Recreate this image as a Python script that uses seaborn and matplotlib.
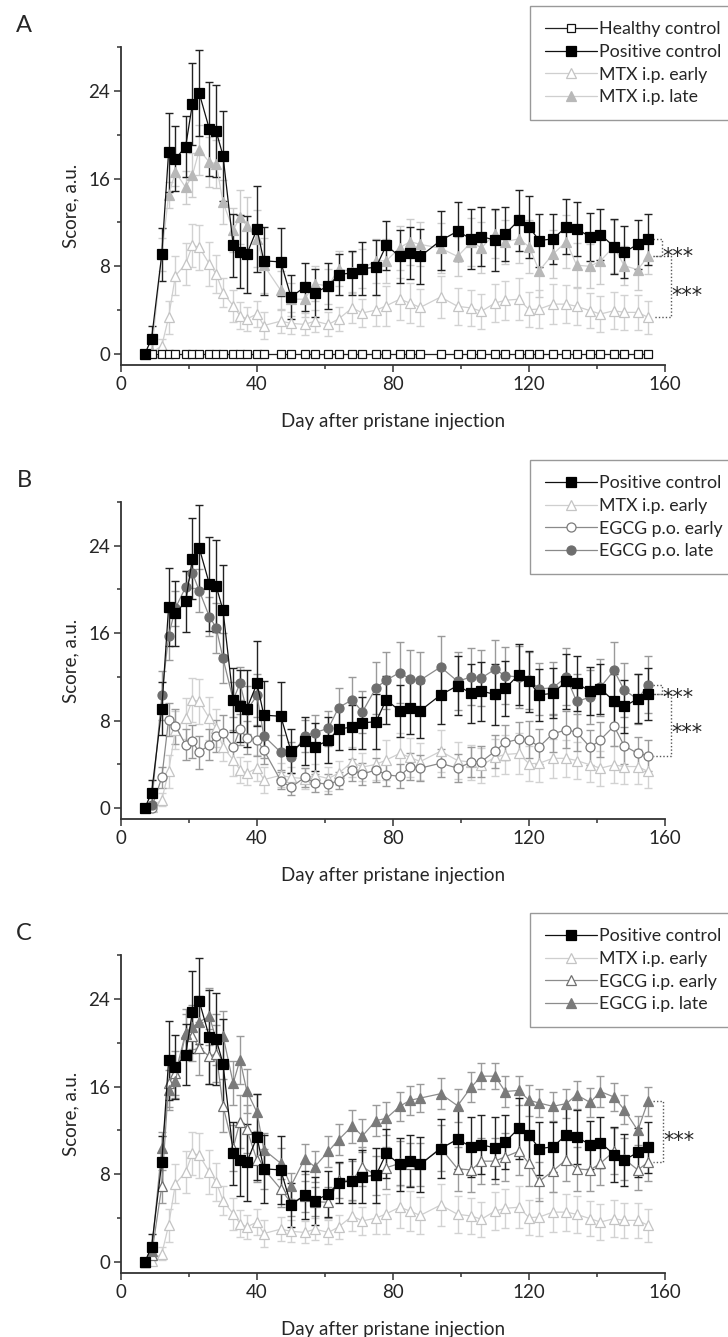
# score curves for the pristane model, three panels (A, B, C)

import numpy as np
import pandas as pd
import matplotlib
matplotlib.use("Agg")
import matplotlib.pyplot as plt
from matplotlib.ticker import MultipleLocator
import seaborn as sns

days = [7, 9, 12, 14, 16, 19, 21, 23, 26, 28, 30, 33, 35, 37, 40, 42, 47, 50, 54, 57,
        61, 64, 68, 71, 75, 78, 82, 85, 88, 94, 99, 103, 106, 110, 113, 117, 120, 123,
        127, 131, 134, 138, 141, 145, 148, 152, 155]

healthy = [0] * len(days)

pos_ctrl = [0, 1.4, 9.1, 18.4, 17.8, 18.9, 22.8, 23.8, 20.5, 20.3, 18.1, 9.9, 9.35, 9.1, 11.4,
            8.5, 8.4, 5.2, 6.1, 5.6, 6.2, 7.25, 7.4, 7.8, 7.9, 9.9, 8.9, 9.2, 8.9, 10.35,
            11.2, 10.5, 10.7, 10.4, 10.95, 12.2, 11.6, 10.35, 10.5, 11.6, 11.4, 10.7, 10.9,
            9.8, 9.3, 10.0, 10.45]
pos_ctrl_sd = [0, 1.2, 2.4, 3.6, 2.95, 2.8, 3.7, 3.95, 4.3, 4.2, 4.1, 2.9, 3.3, 3.5, 3.9,
               3.1, 3.1, 2.0, 2.2, 2.2, 2.1, 1.9, 2.0, 2.4, 2.5, 2.2, 2.4, 2.4, 2.5, 2.7,
               2.7, 2.7, 2.7, 2.8, 2.5, 2.8, 2.8, 2.4, 2.3, 2.5, 2.5, 2.2, 2.3, 2.5, 2.4,
               2.25, 2.35]

mtx_early = [0, 0.1, 0.76, 3.35, 7.15, 8.2, 9.9, 9.75, 8.2, 7.3, 5.6, 4.4, 3.5, 3.2, 3.65,
             2.6, 3.0, 2.8, 2.7, 3.0, 2.7, 3.2, 4.2, 3.75, 4.0, 4.4, 5.0, 4.65, 4.25, 5.2,
             4.35, 4.2, 3.9, 4.65, 4.9, 5.0, 4.05, 4.1, 4.55, 4.55, 4.35, 3.95, 3.65, 3.95,
             3.8, 3.8, 3.35]
mtx_early_sd = [0, 0.2, 0.6, 1.5, 1.75, 1.9, 2.0, 2.05, 2.0, 1.75, 1.3, 1.45, 1.2, 1.1, 1.2,
                1.2, 1.1, 1.0, 1.0, 1.0, 1.1, 1.1, 1.4, 1.3, 1.4, 1.8, 1.9, 1.8, 1.7, 1.9,
                1.7, 1.6, 1.6, 1.7, 1.8, 1.9, 1.6, 1.7, 1.8, 1.7, 1.7, 1.6, 1.6, 1.7, 1.6,
                1.6, 1.5]

mtx_late = [0, 0.2, 9.1, 14.5, 16.6, 15.2, 16.3, 18.6, 17.5, 17.35, 13.85, 11.3, 12.5, 11.7,
            10.5, 8.1, 5.8, 5.0, 5.0, 6.4, 6.2, 7.8, 7.5, 7.8, 8.5, 8.5, 9.7, 10.25, 10.0,
            9.65, 8.9, 10.2, 9.7, 10.95, 10.25, 10.5, 9.8, 7.6, 9.1, 10.25, 8.1, 8.0, 8.5,
            9.8, 8.05, 7.7, 8.9]
mtx_late_sd = [0, 0.2, 1.5, 1.2, 1.3, 1.5, 2.0, 2.3, 2.3, 2.2, 2.0, 2.0, 2.5, 2.6, 2.6,
               2.5, 1.8, 1.5, 1.6, 1.6, 1.6, 1.6, 1.8, 1.8, 2.0, 2.0, 2.0, 2.1, 2.0, 2.3,
               1.8, 2.2, 2.3, 2.2, 2.0, 2.2, 2.4, 2.4, 2.2, 2.4, 2.0, 2.0, 2.1, 2.4, 1.8,
               1.9, 1.6]

egcg_po_early = [0, 0, 2.8, 8.1, 7.5, 5.8, 6.1, 5.1, 5.8, 6.6, 6.9, 5.6, 7.2, 6.45, 6.2,
                 5.3, 2.5, 1.9, 2.8, 2.3, 2.2, 2.5, 3.5, 3.1, 3.5, 3.05, 2.9, 3.8, 3.65, 4.1,
                 3.65, 4.2, 4.25, 5.2, 6.0, 6.3, 6.25, 5.6, 6.8, 7.15, 6.95, 5.55, 6.25, 7.5,
                 5.7, 5.0, 4.8]
egcg_po_early_sd = [0, 0.1, 1.0, 1.5, 1.6, 1.4, 1.5, 1.5, 1.4, 1.5, 1.6, 1.5, 1.4, 1.5, 1.4,
                    1.3, 0.8, 0.7, 0.9, 0.8, 0.9, 0.8, 1.0, 1.0, 1.1, 1.0, 1.1, 1.2, 1.2, 1.3,
                    1.3, 1.4, 1.4, 1.5, 1.6, 1.6, 1.7, 1.6, 1.7, 1.7, 1.7, 1.6, 1.6, 1.8, 1.7,
                    1.5, 1.4]

egcg_po_late = [0, 0.3, 10.3, 15.75, 18.3, 20.2, 21.5, 19.9, 17.5, 16.5, 13.7, 9.9, 11.4,
                8.95, 10.3, 6.6, 5.1, 4.65, 6.6, 6.9, 7.3, 9.2, 9.9, 8.8, 11.0, 11.7, 12.4,
                11.8, 11.7, 12.9, 11.6, 12.0, 11.9, 12.7, 12.1, 12.0, 11.7, 10.9, 11.0, 12.0,
                9.75, 10.15, 11.05, 12.6, 10.8, 9.95, 11.3]
egcg_po_late_sd = [0, 0.3, 2.2, 2.2, 1.6, 1.5, 1.4, 2.0, 1.8, 2.3, 2.3, 1.6, 1.5, 2.2, 2.0,
                   2.0, 1.6, 1.4, 1.5, 1.6, 1.6, 1.8, 2.1, 1.9, 2.4, 2.6, 2.8, 2.7, 2.6, 2.8,
                   2.65, 2.6, 2.6, 2.7, 2.6, 2.8, 2.6, 2.4, 2.4, 2.6, 2.5, 2.5, 2.6, 2.6, 2.5,
                   2.3, 2.6]

egcg_ip_early = [0, 0.67, 6.9, 16.3, 17.2, 20.9, 20.65, 19.5, 18.75, 19.0, 14.25, 10.4, 12.8,
                 12.1, 9.3, 8.5, 6.65, 5.4, 6.0, 5.5, 5.45, 7.45, 7.45, 8.7, 7.9, 8.6, 9.0,
                 8.9, 8.9, 10.4, 8.5, 8.4, 9.2, 9.2, 9.6, 10.1, 9.0, 7.35, 8.3, 9.35, 8.5,
                 8.4, 9.0, 10.1, 9.4, 8.4, 9.1]
egcg_ip_early_sd = [0, 0.4, 1.5, 2.2, 2.0, 2.2, 2.3, 2.4, 2.5, 2.6, 2.4, 2.1, 2.4, 2.2, 2.0,
                    1.8, 1.6, 1.2, 1.4, 1.3, 1.4, 1.6, 1.8, 1.8, 1.8, 1.9, 2.0, 2.0, 2.0, 2.1,
                    2.0, 2.0, 2.1, 2.1, 2.2, 2.2, 2.1, 1.8, 1.9, 2.0, 2.0, 1.9, 2.0, 2.1, 1.9,
                    1.8, 1.7]

egcg_ip_late = [0, 0.97, 10.4, 15.7, 16.5, 20.8, 21.4, 21.9, 22.4, 20.3, 20.65, 16.3, 18.45,
                15.6, 13.65, 10.25, 9.0, 6.95, 9.4, 8.7, 10.1, 11.15, 12.4, 11.5, 12.9, 13.1,
                14.2, 14.75, 14.95, 15.35, 14.25, 15.95, 16.95, 16.95, 15.55, 15.65, 14.75,
                14.5, 14.2, 14.45, 15.25, 14.55, 15.55, 15.05, 13.9, 12.0, 14.65]
egcg_ip_late_sd = [0, 0.5, 1.5, 1.8, 1.5, 1.8, 2.0, 2.4, 2.6, 2.3, 2.2, 2.0, 2.2, 2.0, 1.7,
                   1.5, 1.4, 1.2, 1.4, 1.4, 1.4, 1.4, 1.5, 1.5, 1.4, 1.5, 1.3, 1.3, 1.3, 1.4,
                   1.5, 1.4, 1.2, 1.2, 1.4, 1.3, 1.4, 1.3, 1.3, 1.3, 1.3, 1.3, 1.4, 1.3, 1.3,
                   1.3, 1.3]

# style per series: line colour, marker, face, edge, error bar colour
styles = {
    "Healthy control":  dict(lc="#222222", m="s", fc="white", ec="#111111", bc="#222222", ms=6),
    "Positive control": dict(lc="#111111", m="s", fc="black", ec="black", bc="#222222", ms=6.5),
    "MTX i.p. early":   dict(lc="#cfcfcf", m="^", fc="white", ec="#c4c4c4", bc="#d2d2d2", ms=7),
    "MTX i.p. late":    dict(lc="#cfcfcf", m="^", fc="#b8b8b8", ec="#b8b8b8", bc="#cccccc", ms=7),
    "EGCG p.o. early":  dict(lc="#8a8a8a", m="o", fc="white", ec="#7a7a7a", bc="#9a9a9a", ms=6.5),
    "EGCG p.o. late":   dict(lc="#8a8a8a", m="o", fc="#6e6e6e", ec="#6e6e6e", bc="#9a9a9a", ms=6.5),
    "EGCG i.p. early":  dict(lc="#8c8c8c", m="^", fc="white", ec="#707070", bc="#9a9a9a", ms=7),
    "EGCG i.p. late":   dict(lc="#8c8c8c", m="^", fc="#7a7a7a", ec="#7a7a7a", bc="#9a9a9a", ms=7),
}

sns.set_style("ticks")
plt.rcParams["font.family"] = ["Lato", "DejaVu Sans"]

fig = plt.figure(figsize=(7.28, 13.37), dpi=100)
W, H = 728, 1337
FS = 13.5


def add_panel(top_px, bottom_px):
    ax = fig.add_axes([121 / W, 1 - bottom_px / H, 544 / W, (bottom_px - top_px) / H])
    return ax


def draw(ax, name, vals, sd=None):
    st = styles[name]
    if sd is not None:
        ax.errorbar(days, vals, yerr=sd, fmt="none", ecolor=st["bc"], elinewidth=1.0,
                    capsize=3, capthick=1.0, zorder=2)
    df = pd.DataFrame({"day": days, "score": vals})
    sns.lineplot(data=df, x="day", y="score", ax=ax, color=st["lc"], linewidth=0.9,
                 marker=st["m"], markersize=st["ms"], markerfacecolor=st["fc"],
                 markeredgecolor=st["ec"], markeredgewidth=0.9, errorbar=None,
                 label=name, zorder=3, legend=False)
    return ax.lines[-1]


def finish(ax, letter, top_px, legend_handles, legend_top):
    ax.set_xlim(0, 160)
    ax.set_ylim(-1, 28)
    ax.xaxis.set_major_locator(MultipleLocator(40))
    ax.xaxis.set_minor_locator(MultipleLocator(20))
    ax.yaxis.set_major_locator(MultipleLocator(8))
    ax.yaxis.set_minor_locator(MultipleLocator(4))
    ax.tick_params(which="major", length=5, width=1.1, color="#333333", labelsize=FS,
                   pad=3)
    ax.tick_params(which="minor", length=3, width=1.1, color="#333333")
    for s in ["left", "bottom"]:
        ax.spines[s].set_linewidth(1.3)
        ax.spines[s].set_color("#333333")
    sns.despine(ax=ax)
    ax.set_xlabel("Day after pristane injection", fontsize=FS, labelpad=14)
    ax.set_ylabel("Score, a.u.", fontsize=FS, labelpad=6)
    fig.text(24 / W, 1 - (top_px - 21) / H, letter, fontsize=17, ha="center", va="center")
    leg = fig.legend(handles=legend_handles, labels=[h.get_label() for h in legend_handles],
                     loc="upper left", bbox_to_anchor=(530 / W, 1 - legend_top / H),
                     bbox_transform=fig.transFigure, borderaxespad=0, fontsize=12.8,
                     handlelength=2.9, handletextpad=0.15, labelspacing=0.38,
                     borderpad=0.85, fancybox=False, framealpha=1, edgecolor="#999999")
    leg.get_frame().set_linewidth(1.0)


def bracket(ax, y1, y2, xv, txt_y, txt_x):
    ax.plot([156.5, xv, xv, 156.5], [y1, y1, y2, y2], color="#555555", linewidth=1.0,
            linestyle=(0, (1, 1.5)), clip_on=False, zorder=1)
    ax.text(txt_x, txt_y - 1.35, "***", fontsize=15, ha="left", va="baseline",
            family="DejaVu Sans", clip_on=False)


# panel A
axA = add_panel(47, 365)
hA_me = draw(axA, "MTX i.p. early", mtx_early, mtx_early_sd)
hA_ml = draw(axA, "MTX i.p. late", mtx_late, mtx_late_sd)
hA_h = draw(axA, "Healthy control", healthy)
hA_p = draw(axA, "Positive control", pos_ctrl, pos_ctrl_sd)
finish(axA, "A", 47, [hA_h, hA_p, hA_me, hA_ml], 6)
bracket(axA, pos_ctrl[-1], mtx_late[-1], 159.0, (pos_ctrl[-1] + mtx_late[-1]) / 2, 159.2)
bracket(axA, mtx_late[-1], mtx_early[-1], 161.8, (mtx_late[-1] + mtx_early[-1]) / 2, 162.0)

# panel B
axB = add_panel(502, 819)
hB_me = draw(axB, "MTX i.p. early", mtx_early, mtx_early_sd)
hB_pe = draw(axB, "EGCG p.o. early", egcg_po_early, egcg_po_early_sd)
hB_pl = draw(axB, "EGCG p.o. late", egcg_po_late, egcg_po_late_sd)
hB_p = draw(axB, "Positive control", pos_ctrl, pos_ctrl_sd)
finish(axB, "B", 502, [hB_p, hB_me, hB_pe, hB_pl], 460)
bracket(axB, egcg_po_late[-1], pos_ctrl[-1], 159.0, (egcg_po_late[-1] + pos_ctrl[-1]) / 2, 159.2)
bracket(axB, pos_ctrl[-1], egcg_po_early[-1], 161.8, (pos_ctrl[-1] + egcg_po_early[-1]) / 2, 162.0)

# panel C
axC = add_panel(955, 1273)
hC_me = draw(axC, "MTX i.p. early", mtx_early, mtx_early_sd)
hC_ie = draw(axC, "EGCG i.p. early", egcg_ip_early, egcg_ip_early_sd)
hC_il = draw(axC, "EGCG i.p. late", egcg_ip_late, egcg_ip_late_sd)
hC_p = draw(axC, "Positive control", pos_ctrl, pos_ctrl_sd)
finish(axC, "C", 955, [hC_p, hC_me, hC_ie, hC_il], 913)
bracket(axC, egcg_ip_late[-1], egcg_ip_early[-1], 159.3, (egcg_ip_late[-1] + egcg_ip_early[-1]) / 2, 159.5)

fig.savefig("out.png", dpi=100)
